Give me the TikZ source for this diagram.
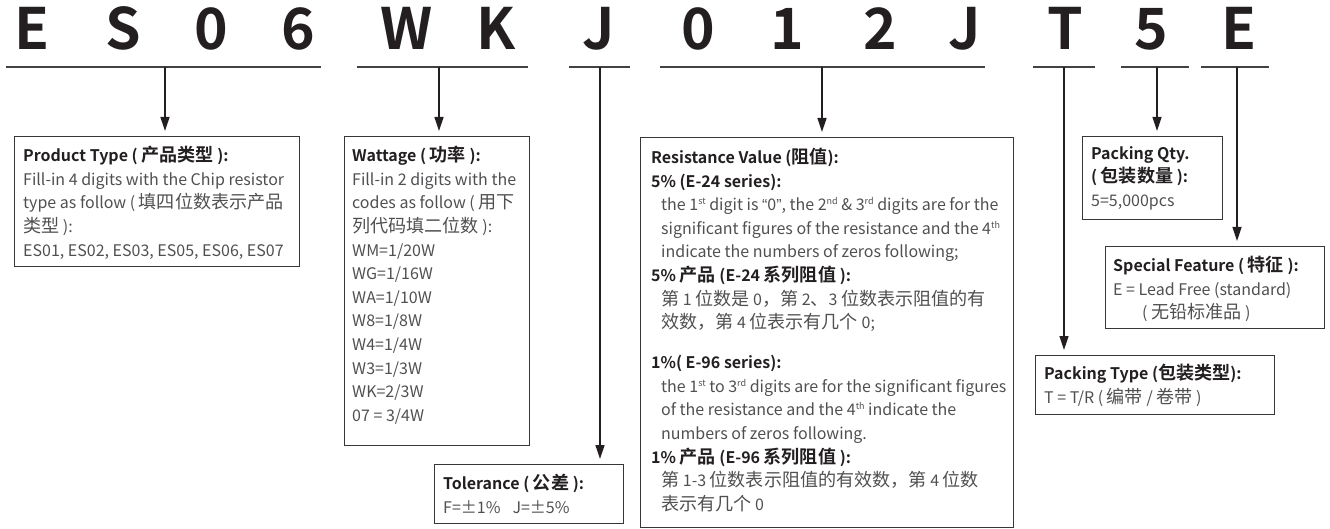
\documentclass[tikz,border=0pt]{standalone}
\usepackage{fontspec}
\setmainfont{Noto Sans CJK SC}[BoldFont={Noto Sans CJK SC Bold}]
\newfontfamily\cjk{Noto Sans CJK SC}[BoldFont={Noto Sans CJK SC Bold}, Scale=1.13]
\newfontfamily\qfont{Liberation Sans}
\usetikzlibrary{arrows.meta}
\definecolor{Ink}{RGB}{35,31,32}
\definecolor{Body}{RGB}{80,80,82}
\definecolor{Frame}{RGB}{55,55,55}
\newcommand{\hd}[1]{{\bfseries\color{Ink}#1}}
\newcommand{\zh}[1]{{\cjk #1}}
\newcommand{\ind}{\hspace*{10pt}}
\newcommand{\ord}[1]{\raisebox{6pt}{\fontsize{9}{9}\selectfont #1}}

\begin{document}
\begin{tikzpicture}[x=1pt, y=-1pt,
    code/.style={anchor=base, font=\fontsize{57}{57}\selectfont\bfseries, text=Ink, inner sep=0pt},
    bar/.style={line width=1.6pt, Ink!85},
    panel/.style={draw=Frame, line width=1.1pt, anchor=north west, inner sep=0pt},
    txt/.style={anchor=north west, align=left, inner sep=0pt, text=Body,
                font=\fontsize{16}{23.6}\selectfont,
                execute at begin node={\rule{0pt}{14pt}}},
    arr/.style={->, line width=1.3pt, Ink, shorten >=5pt},
    >={Triangle[length=14pt, width=9pt]},
]
\useasboundingbox (0,0) rectangle (1330,529);

% part number
\foreach \ch/\x [count=\i] in {E/32, S/123, 0/211, 6/298, W/407, K/496, J/599,
                               0/698, 1/787, 2/880, J/965, T/1065, 5/1151, E/1239}
  \node[code] (ch\i) at (\x,50) {\ch};

\foreach \a/\b/\m [count=\i] in {6/321/165, 357/528/439, 569/630/600, 660/985/822,
                                 1033/1095/1064, 1121/1189/1157, 1201/1269/1237}{
  \draw[bar] (\a,67) -- (\b,67);
  \coordinate (stem\i) at (\m,67);
}

% boxes
\node[panel, minimum width=285pt, minimum height=130pt] (ptype) at (14,136) {};
\node[panel, minimum width=185pt, minimum height=309pt] (watt) at (344,136) {};
\node[panel, minimum width=189pt, minimum height=59pt] (tol) at (434,464) {};
\node[panel, minimum width=373pt, minimum height=390pt] (res) at (640,137) {};
\node[panel, minimum width=140pt, minimum height=83pt] (qty) at (1082,136) {};
\node[panel, minimum width=219pt, minimum height=82pt] (feat) at (1105,246) {};
\node[panel, minimum width=239pt, minimum height=59pt] (pack) at (1035,355) {};

\node[txt] (ptype-t) at ([shift={(9pt,-10pt)}]ptype.north west) {%
  \hd{Product Type ( \zh{产品类型} ):}\\
  Fill-in 4 digits with the Chip resistor\\
  type as follow ( \zh{填四位数表示产品}\\
  \zh{类型} ):\\
  ES01, ES02, ES03, ES05, ES06, ES07};

\node[txt] (watt-t) at ([shift={(8pt,-10pt)}]watt.north west) {%
  \hd{Wattage ( \zh{功率} ):}\\
  Fill-in 2 digits with the\\
  codes as follow ( \zh{用下}\\
  \zh{列代码填二位数} ):\\
  WM=1/20W\\ WG=1/16W\\ WA=1/10W\\ W8=1/8W\\
  W4=1/4W\\ W3=1/3W\\ WK=2/3W\\ 07 = 3/4W};

\node[txt] (tol-t) at ([shift={(9pt,-10pt)}]tol.north west) {%
  \hd{Tolerance ( \zh{公差} ):}\\
  F=±1\%\hspace{12pt}J=±5\%};

\node[txt] (res-t) at ([shift={(11pt,-11pt)}]res.north west) {%
  \hd{Resistance Value (\zh{阻值}):}\\
  \hd{5\% (E-24 series):}\\
  \ind the 1\ord{st} digit is {\qfont“}0{\qfont”}, the 2\ord{nd} \& 3\ord{rd} digits are for the\\
  \ind significant figures of the resistance and the 4\ord{th}\\
  \ind indicate the numbers of zeros following;\\
  \hd{5\% \zh{产品} (E-24 \zh{系列阻值} ):}\\
  \ind \zh{第} 1 \zh{位数是} 0\zh{，第} 2\zh{、}3 \zh{位数表示阻值的有}\\
  \ind \zh{效数，第} 4 \zh{位表示有几个} 0;\\[16.4pt]
  \hd{1\%( E-96 series):}\\
  \ind the 1\ord{st} to 3\ord{rd} digits are for the significant figures\\
  \ind of the resistance and the 4\ord{th} indicate the\\
  \ind numbers of zeros following.\\
  \hd{1\% \zh{产品} (E-96 \zh{系列阻值} ):}\\
  \ind \zh{第} 1-3 \zh{位数表示阻值的有效数，第} 4 \zh{位数}\\
  \ind \zh{表示有几个} 0};

\node[txt] (qty-t) at ([shift={(9pt,-10pt)}]qty.north west) {%
  \hd{Packing Qty.}\\
  \hd{( \zh{包装数量} ):}\\
  5=5,000pcs};

\node[txt] (feat-t) at ([shift={(8pt,-10pt)}]feat.north west) {%
  \hd{Special Feature ( \zh{特征} ):}\\
  E = Lead Free (standard)\\
  \hspace*{29pt}( \zh{无铅标准品} )};

\node[txt] (pack-t) at ([shift={(9pt,-9pt)}]pack.north west) {%
  \hd{Packing Type (\zh{包装类型}):}\\
  T = T/R ( \zh{编带} / \zh{卷带} )};

% arrows
\draw[arr] (stem1) -- (stem1 |- ptype.north);
\draw[arr] (stem2) -- (stem2 |- watt.north);
\draw[arr] (stem3) -- (stem3 |- tol.north);
\draw[arr] (stem4) -- (stem4 |- res.north);
\draw[arr] (stem5) -- (stem5 |- pack.north);
\draw[arr] (stem6) -- (stem6 |- qty.north);
\draw[arr] (stem7) -- (stem7 |- feat.north);
\end{tikzpicture}
\end{document}
